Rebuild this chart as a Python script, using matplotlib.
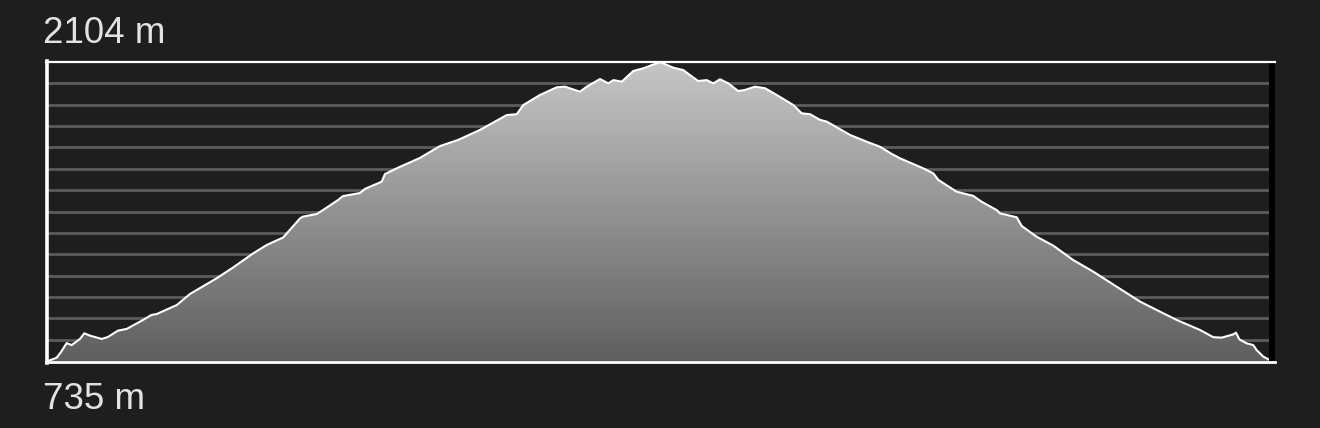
import matplotlib
matplotlib.use("Agg")
import matplotlib.pyplot as plt
import numpy as np
from matplotlib.colors import LinearSegmentedColormap
from matplotlib.patches import PathPatch

# distance along route (% of total) and elevation (m)
distance = [0, 0.71, 1.06, 1.53, 1.94, 2.62, 2.97, 3.44, 4.40, 4.91, 5.73, 6.45, 7.53,
            8.49, 8.90, 10.54, 11.63, 13.82, 15.18, 16.81, 17.91, 19.27, 20.64, 20.88,
            22.01, 22.52, 23.75, 24.16, 25.55, 25.96, 27.33, 27.60, 28.67, 30.47, 32.10,
            33.58, 35.38, 37.57, 38.39, 38.93, 40.29, 41.66, 42.34, 43.57, 44.12, 45.21,
            45.89, 46.30, 46.99, 47.94, 48.75, 50.12, 51.21, 52.03, 52.58, 53.26, 53.95,
            54.49, 55.04, 55.72, 56.53, 57.08, 57.90, 58.72, 59.68, 61.04, 61.73, 62.41,
            63.23, 63.78, 65.69, 67.05, 68.14, 69.10, 69.78, 71.69, 72.51, 72.92, 74.42,
            75.78, 76.47, 77.70, 77.97, 79.34, 79.75, 80.97, 82.34, 83.97, 85.61, 87.53,
            89.44, 91.07, 92.44, 94.35, 95.44, 96.13, 97.08, 97.30, 97.57, 98.17, 98.71,
            98.99, 99.53, 99.94, 100.0]
elevation = [735, 750, 776, 817, 808, 836, 862, 851, 836, 845, 874, 882, 915,
             946, 950, 991, 1042, 1114, 1164, 1228, 1266, 1301, 1388, 1396,
             1408, 1426, 1472, 1490, 1504, 1523, 1556, 1591, 1620, 1665, 1719,
             1747, 1793, 1861, 1865, 1907, 1953, 1988, 1991, 1968, 1991, 2026,
             2006, 2021, 2014, 2063, 2075, 2104, 2078, 2067, 2044, 2017, 2021,
             2006, 2025, 2006, 1971, 1976, 1991, 1984, 1953, 1907, 1869, 1865,
             1839, 1831, 1770, 1739, 1716, 1683, 1663, 1617, 1594, 1564, 1510,
             1491, 1464, 1426, 1411, 1393, 1353, 1304, 1263, 1197, 1144, 1075,
             1007, 961, 923, 877, 844, 842, 857, 865, 834, 816, 808,
             785, 755, 743, 741]

elev_min = 735
elev_max = 2104
label_max = "2104 m"
label_min = "735 m"
n_bands = 14

BG = "#1e1e1e"
W, H = 1320, 428
fig = plt.figure(figsize=(W / 100, H / 100), dpi=100, facecolor=BG)

x0, x1 = 48, 1269
y_top, y_bot = 62, 361
ax = fig.add_axes([x0 / W, 1 - y_bot / H, (x1 - x0) / W, (y_bot - y_top) / H])
ax.set_facecolor(BG)
ax.set_xlim(0, 100)
ax.set_ylim(elev_min, elev_max)
for s in ax.spines.values():
    s.set_visible(False)
ax.set_xticks([])
ax.set_yticks([])

# grid lines
step = (elev_max - elev_min) / n_bands
for k in range(1, n_bands):
    ax.axhline(elev_min + k * step, color="#5c5c5c", lw=2.0, zorder=1)

# gradient fill
cmap = LinearSegmentedColormap.from_list("g", ["#5f5f5f", "#c6c6c6"])
grad = np.linspace(0, 1, 256).reshape(-1, 1)
im = ax.imshow(grad, cmap=cmap, aspect="auto", origin="lower",
               extent=[0, 100, elev_min, elev_max], zorder=2)
poly = ax.fill_between(distance, elev_min, elevation, color="none", lw=0)
path = poly.get_paths()[0]
patch = PathPatch(path, transform=ax.transData, facecolor="none", edgecolor="none")
ax.add_patch(patch)
im.set_clip_path(patch)

ax.plot(distance, elevation, color="white", lw=1.5, zorder=3, solid_joinstyle="round")

# frame
def fline(xa, ya, xb, yb, color, lw):
    fig.add_artist(plt.Line2D([xa / W, xb / W], [1 - ya / H, 1 - yb / H],
                              color=color, lw=lw, transform=fig.transFigure))

fig.add_artist(plt.Rectangle((1269 / W, 1 - 361 / H), 6 / W, 299 / H,
                             facecolor="black", edgecolor="none",
                             transform=fig.transFigure))
fline(46, 61.5, 1275, 61.5, "white", 1.6)
fline(46, 361.8, 1275, 361.8, "white", 2.0)
fline(47.3, 61, 47.3, 362.5, "white", 2.6)

fig.text(43 / W, 1 - 43 / H, label_max, color="#e2e2e2", fontsize=26.5,
         family="Liberation Sans", va="baseline", ha="left")
fig.text(43 / W, 1 - 409 / H, label_min, color="#e2e2e2", fontsize=26.5,
         family="Liberation Sans", va="baseline", ha="left")

fig.savefig("out.png", dpi=100, facecolor=BG)
